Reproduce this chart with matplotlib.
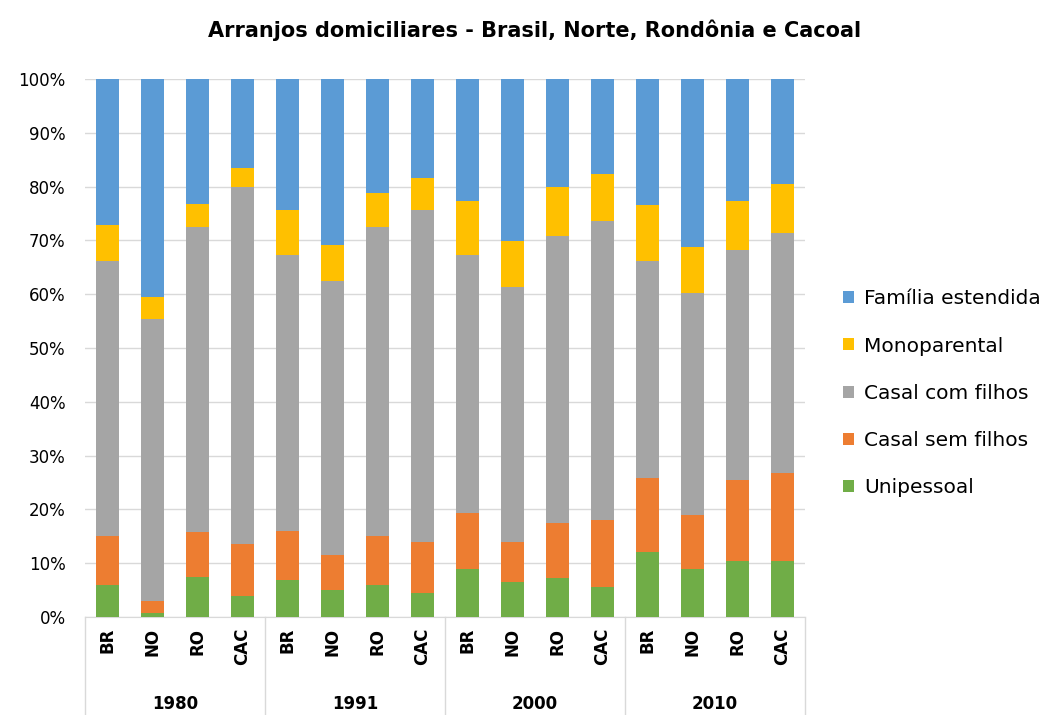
import matplotlib
matplotlib.use("Agg")
import matplotlib.pyplot as plt
import numpy as np

# categories
years = ['1980', '1991', '2000', '2010']
places = ['BR', 'NO', 'RO', 'CAC']

# series values (% of households), bottom to top
unipessoal = [6.0, 0.8, 7.5, 3.9, 6.8, 5.0, 6.0, 4.5, 9.0, 6.5, 7.2, 5.6, 12.0, 9.0, 10.5, 10.5]
casal_sem = [9.0, 2.2, 8.3, 9.6, 9.2, 6.6, 9.0, 9.5, 10.4, 7.5, 10.3, 12.4, 13.8, 10.0, 14.9, 16.3]
casal_com = [51.1, 52.4, 56.6, 66.5, 51.2, 50.8, 57.5, 61.6, 47.8, 47.3, 53.4, 55.6, 40.3, 41.2, 42.9, 44.5]
monoparental = [6.7, 4.0, 4.3, 3.4, 8.4, 6.7, 6.4, 6.0, 10.2, 8.6, 9.1, 8.8, 10.5, 8.6, 9.1, 9.1]
familia_est = [27.2, 40.6, 23.3, 16.6, 24.4, 30.9, 21.1, 18.4, 22.6, 30.1, 20.0, 17.6, 23.4, 31.2, 22.6, 19.6]

series = [
    ('Unipessoal', unipessoal, '#70AD47'),
    ('Casal sem filhos', casal_sem, '#ED7D31'),
    ('Casal com filhos', casal_com, '#A5A5A5'),
    ('Monoparental', monoparental, '#FFC000'),
    ('Família estendida', familia_est, '#5B9BD5'),
]

plt.rcParams['font.family'] = ['DejaVu Sans']

fig = plt.figure(figsize=(10.55, 7.15), dpi=100)
ax = fig.add_axes([85 / 1055, 98 / 715, 720 / 1055, 538 / 715])

n = len(years) * len(places)
x = np.arange(n)
bottom = np.zeros(n)
handles = []
for name, vals, col in series:
    h = ax.bar(x, vals, 0.5, bottom=bottom, color=col, label=name, zorder=3)
    bottom += np.array(vals)
    handles.append(h)

ax.set_xlim(-0.5, n - 0.5)
ax.set_ylim(0, 100)
ax.set_yticks(np.arange(0, 101, 10))
ax.set_yticklabels(['%d%%' % v for v in range(0, 101, 10)], fontsize=12)
ax.yaxis.grid(True, color='#D9D9D9', linewidth=1, zorder=0)
ax.tick_params(axis='y', length=0, pad=14)
ax.tick_params(axis='x', length=0, pad=8)

for s in ['top', 'right', 'left']:
    ax.spines[s].set_visible(False)
ax.spines['bottom'].set_color('#D9D9D9')

ax.set_xticks(x)
ax.set_xticklabels(places * len(years), rotation=90, fontsize=12, fontweight='bold')

# group separators and year labels
trans = ax.get_xaxis_transform()
for g in range(len(years) + 1):
    xp = g * len(places) - 0.5
    ax.plot([xp, xp], [0, -0.185], transform=trans, color='#D9D9D9',
            linewidth=1, clip_on=False)
for g, yr in enumerate(years):
    xc = g * len(places) + (len(places) - 1) / 2
    ax.text(xc, -0.162, yr, transform=trans, ha='center', va='center',
            fontsize=12, fontweight='bold')

fig.text(0.507, 0.957, 'Arranjos domiciliares - Brasil, Norte, Rondônia e Cacoal',
         ha='center', va='center', fontsize=15, fontweight='bold')

leg = fig.legend(handles[::-1], [s[0] for s in series][::-1],
                 loc='center left', bbox_to_anchor=(0.782, 0.45),
                 frameon=False, fontsize=14.5, handlelength=0.55, handleheight=0.55,
                 handletextpad=0.5, labelspacing=1.4)

fig.savefig('out.png', dpi=100)
